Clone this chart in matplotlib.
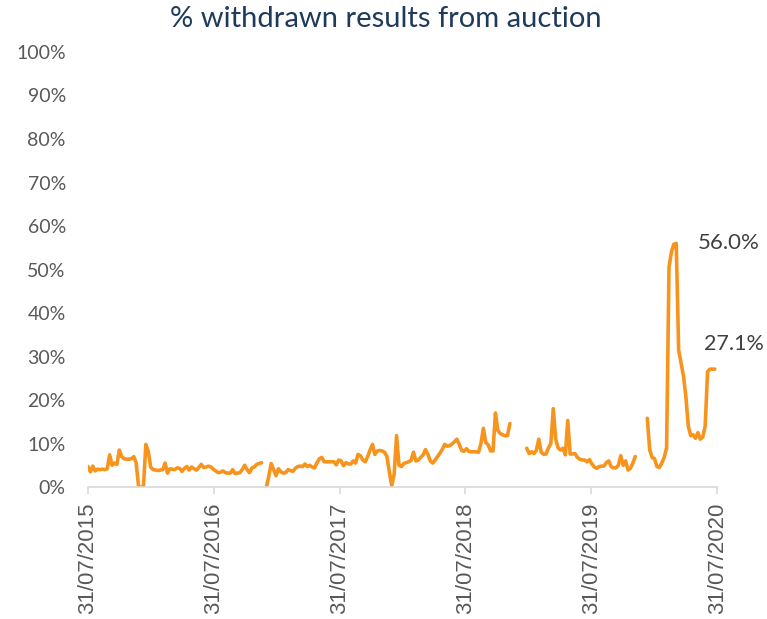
import numpy as np
import pandas as pd
import matplotlib
matplotlib.use('agg')
import matplotlib.pyplot as plt
import matplotlib.dates as mdates
from matplotlib.ticker import MultipleLocator, PercentFormatter

nan = np.nan

# weekly % of auction results withdrawn, starting 31/07/2015 (nan = no data)
withdrawn_pct = [
    4.7, 3.5, 4.8, 3.7, 4.1, 4.0, 4.1, 4.0, 4.2, 7.4,
    5.0, 5.5, 5.2, 8.5, 7.0, 6.5, 6.4, 6.4, 6.5, 7.0,
    5.5, 0.0, 0.0, 0.0, 9.8, 8.2, 4.6, 4.0, 3.9, 3.8,
    3.9, 4.0, 5.5, 3.2, 4.2, 4.1, 4.0, 4.4, 4.3, 3.6,
    4.3, 4.7, 3.9, 4.6, 4.2, 3.9, 4.5, 5.2, 4.5, 4.6,
    4.8, 4.6, 4.1, 3.7, 3.3, 3.4, 3.7, 3.3, 3.2, 3.2,
    4.0, 3.1, 3.2, 3.3, 4.0, 5.0, 4.0, 3.3, 4.4, 4.6,
    5.2, 5.4, 5.6, nan, 0.0, 2.5, 5.4, 4.0, 2.6, 4.2,
    3.5, 3.2, 3.3, 4.0, 3.8, 3.6, 4.3, 4.7, 4.8, 4.7,
    5.3, 4.7, 5.0, 4.6, 4.4, 5.6, 6.5, 6.8, 5.8, 5.8,
    5.8, 5.8, 5.8, 5.1, 6.2, 6.0, 4.9, 5.6, 5.3, 5.3,
    6.0, 5.5, 7.5, 7.2, 6.2, 5.8, 7.0, 8.5, 9.8, 7.5,
    8.3, 8.4, 8.3, 8.0, 7.0, 3.5, 0.3, 3.0, 11.8, 5.0,
    4.7, 5.4, 5.6, 5.8, 6.1, 8.0, 6.0, 6.2, 6.8, 7.4,
    8.6, 7.5, 6.0, 5.5, 6.2, 7.0, 7.8, 8.7, 9.8, 9.4,
    9.5, 9.9, 10.4, 11.0, 9.8, 8.4, 8.2, 8.8, 8.2, 8.1,
    8.1, 8.1, 8.0, 10.0, 13.5, 10.2, 9.7, 8.3, 8.3, 17.0,
    13.0, 12.3, 12.0, 11.8, 11.8, 14.6, nan, nan, nan, nan,
    nan, nan, 8.9, 7.7, 8.1, 7.7, 8.5, 11.0, 8.0, 7.5,
    7.6, 9.0, 10.0, 18.0, 11.0, 9.0, 8.5, 8.9, 7.4, 15.3,
    7.6, 7.6, 7.7, 6.8, 6.4, 6.2, 6.2, 5.8, 6.3, 5.3,
    4.6, 4.3, 4.7, 4.8, 4.8, 5.6, 6.0, 4.7, 4.4, 4.4,
    5.0, 7.2, 5.0, 6.0, 3.9, 4.3, 5.5, 7.0, nan, nan,
    nan, nan, 15.8, 8.5, 6.8, 6.5, 4.7, 4.5, 5.5, 6.8,
    9.0, 50.5, 54.0, 55.8, 56.0, 31.5, 28.5, 25.5, 20.8, 14.0,
    11.8, 12.0, 11.2, 12.5, 11.0, 11.5, 14.0, 26.5, 27.1, 27.1,
    27.1,
]
start_date = '2015-07-31'
tick_dates = ['2015-07-31', '2016-07-31', '2017-07-31',
              '2018-07-31', '2019-07-31', '2020-07-31']

dates = pd.date_range(start_date, periods=len(withdrawn_pct), freq='7D')
series = pd.Series(withdrawn_pct, index=dates)

fig = plt.figure(figsize=(7.67, 6.19), dpi=100)
ax = fig.add_axes([0.1147, 0.2132, 0.8204, 0.7028])

orange = '#F7941D'
ax.plot(series.index, series.values, color=orange, lw=2.6,
        solid_joinstyle='round', solid_capstyle='round')

ax.set_ylim(0, 100)
ax.yaxis.set_major_locator(MultipleLocator(10))
ax.yaxis.set_major_formatter(PercentFormatter(decimals=0))
ax.set_xlim(pd.Timestamp(tick_dates[0]), pd.Timestamp(tick_dates[-1]))
ax.set_xticks([pd.Timestamp(d) for d in tick_dates])
ax.xaxis.set_major_formatter(mdates.DateFormatter('%d/%m/%Y'))

for s in ['top', 'right', 'left']:
    ax.spines[s].set_visible(False)
ax.spines['bottom'].set_color('#D9D9D9')
ax.spines['bottom'].set_linewidth(1.2)
ax.tick_params(axis='y', length=0, pad=16, labelsize=14, labelcolor='#595959')
ax.tick_params(axis='x', direction='out', length=5, width=1.2, color='#D9D9D9',
               labelsize=16, labelcolor='#595959', labelrotation=90, pad=6)
for lab in ax.get_yticklabels():
    lab.set_family('Lato')
for lab in ax.get_xticklabels():
    lab.set_family('Liberation Sans')

# labels for the peak and the latest value
peak = series.idxmax()
ax.annotate(f'{series.max():.1f}%', xy=(peak, series.max()), xytext=(22, 0),
            textcoords='offset pixels', ha='left', va='center',
            fontsize=16, color='#404040', family='Lato')
last = series.index[-1]
ax.annotate(f'{series.iloc[-1]:.1f}%', xy=(last, series.iloc[-1]), xytext=(-11, 25),
            textcoords='offset pixels', ha='left', va='center',
            fontsize=15.5, color='#404040', family='Lato')

fig.text(0.503, 0.97, '% withdrawn results from auction', ha='center', va='center',
         fontsize=21, color='#1F3B5C', family='Lato')

fig.savefig('out.png', dpi=100)
